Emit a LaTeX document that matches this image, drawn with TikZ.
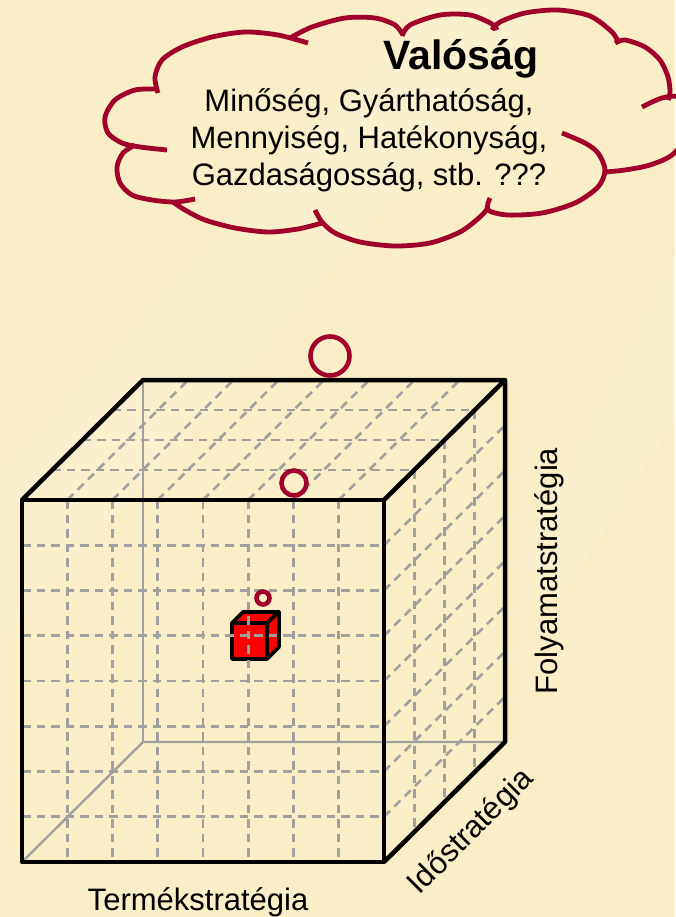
\documentclass[tikz,border=0pt]{standalone}
\usepackage{fontspec}
\setmainfont{Liberation Sans}
\usepackage{tikz}

\definecolor{paper}{HTML}{F9EEC6}
\definecolor{paperlight}{HTML}{FCF4D9}
\definecolor{cloudred}{HTML}{A0002A}
\definecolor{gridgray}{HTML}{A0A0A0}

\tikzset{
  edge/.style={line width=4.5pt, line join=round},
  backedge/.style={gridgray, line width=2.4pt},
  gridline/.style={gridgray, line width=2.6pt, dash pattern=on 8.5pt off 6pt},
  cloudline/.style={cloudred, line width=4.8pt},
  ring/.style={cloudred, line width=4.6pt},
  cloudtext/.style={font=\fontsize{31}{37}\selectfont, anchor=base},
  axislabel/.style={font=\fontsize{31}{37}\selectfont, anchor=base},
}

\begin{document}
\begin{tikzpicture}[x=1pt,y=-1pt]
    % Background
    \fill[paper] (0,0) rectangle (675,917);
    \fill[paperlight, opacity=0.45] (0,640) -- (257,360) -- (560,0) -- (430,0) -- (0,470) -- cycle;
    \fill[paperlight, opacity=0.4] (675,250) -- (520,560) -- (560,600) -- (675,420) -- cycle;
    \useasboundingbox (0,0) rectangle (675,917);
    % Draw the cloud
    \draw[cloudline] plot[smooth] coordinates {(158,93) (155,77) (162,60) (182,47) (212,37) (245,32) (278,35) (308,43)};
    \draw[cloudline] plot[smooth] coordinates {(158,89) (135,90) (115,100) (105,117) (108,133) (122,143) (140,147) (167,150)};
    \draw[cloudline] plot[smooth] coordinates {(135,145) (123,153) (117,167) (120,183) (132,195) (152,200) (175,202) (195,199)};
    \draw[cloudline] plot[smooth] coordinates {(173,202) (185,210) (205,220) (235,228) (268,232) (298,229) (322,223)};
    \draw[cloudline] plot[smooth] coordinates {(315,210) (322,222) (335,233) (360,242) (395,246) (430,243) (460,232) (480,217) (488,208)};
    \draw[cloudline] plot[smooth] coordinates {(490,198) (488,210) (508,215) (542,213) (575,203) (598,187) (605,170) (598,153) (585,143) (562,133)};
    \draw[cloudline] plot[smooth] coordinates {(605,172) (625,170) (650,165) (672,155) (688,135) (690,112) (680,97) (662,98) (642,107)};
    \draw[cloudline] plot[smooth] coordinates {(615,43) (625,40) (645,47) (660,60) (668,77) (670,92) (668,100)};
    \draw[cloudline] plot[smooth] coordinates {(492,30) (500,22) (525,13) (558,10) (590,16) (612,32) (618,42)};
    \draw[cloudline] plot[smooth] coordinates {(402,36) (410,25) (440,15) (470,15) (492,24) (497,30)};
    \draw[cloudline] plot[smooth] coordinates {(290,38) (312,27) (345,18) (375,18) (395,25) (403,35)};
    % Cloud text
    \node[font=\bfseries\fontsize{41}{45}\selectfont, anchor=base] (title) at (461,70) {Valóság};
    \node[cloudtext] (line1) at (369,112) {Minőség, Gyárthatóság,};
    \node[cloudtext] (line2) at (369,149) {Mennyiség, Hatékonyság,};
    \node[cloudtext] (line3) at (369,186) {Gazdaságosság, stb. ???};
    % Corners of the cube
    \coordinate (ftl) at (22,500);
    \coordinate (ftr) at (384,500);
    \coordinate (fbr) at (384,862);
    \coordinate (fbl) at (22,862);
    \coordinate (btl) at (143,380);
    \coordinate (btr) at (505,380);
    \coordinate (bbr) at (505,742);
    \coordinate (bbl) at (143,742);
    % Hidden edges
    \draw[backedge] (fbl) -- (bbl) -- (bbr);
    \draw[backedge] (bbl) -- (btl);
    % The small red cube
    \filldraw[fill=red, line width=3.6pt, line join=round] (232,623) -- (243,612) -- (279,612) -- (267,623) -- cycle;
    \filldraw[fill=red, line width=3.6pt, line join=round] (267,623) -- (279,612) -- (279,647) -- (267,659) -- cycle;
    \filldraw[fill=red, line width=3.6pt, line join=round] (232,623) rectangle (267,659);
    % Draw the grid
    \foreach \k in {1,...,7} {
        \draw[gridline] ({22+45.25*\k},500) -- ({22+45.25*\k},862);
        \draw[gridline] (22,{500+45.25*\k}) -- (384,{500+45.25*\k});
        \draw[gridline] ({22+45.25*\k},500) -- ({143+45.25*\k},380);
        \draw[gridline] (384,{500+45.25*\k}) -- (505,{380+45.25*\k});
    }
    \foreach \j in {1,2,3} {
        \draw[gridline] ({22+30.25*\j},{500-30*\j}) -- ({384+30.25*\j},{500-30*\j});
        \draw[gridline] ({384+30.25*\j},{500-30*\j}) -- ({384+30.25*\j},{862-30*\j});
    }
    % Draw the edges
    \draw[edge] (ftl) -- (ftr) -- (fbr) -- (fbl) -- cycle;
    \draw[edge] (ftl) -- (btl) -- (btr) -- (bbr) -- (fbr);
    \draw[edge] (btr) -- (ftr);
    % Circles
    \draw[ring] (330,356) circle[radius=19.5pt];
    \draw[ring] (294,483) circle[radius=12.5pt];
    \draw[ring] (263,598) circle[radius=6.5pt];
    % Axis labels
    \node[axislabel] (product) at (198,910) {Termékstratégia};
    \node[axislabel, rotate=90] (process) at (557,571) {Folyamatstratégia};
    \node[axislabel, rotate=45] (time) at (477,838) {Időstratégia};
\end{tikzpicture}
\end{document}
